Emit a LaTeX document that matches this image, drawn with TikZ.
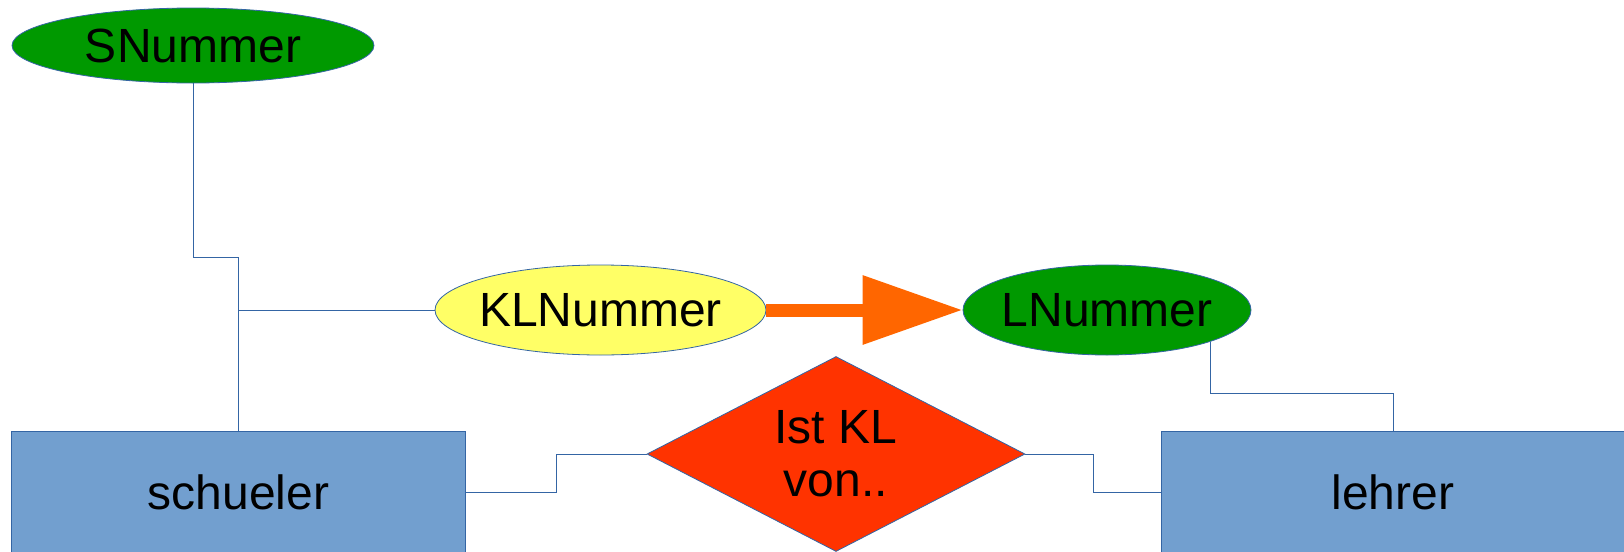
\documentclass[tikz,border=0pt]{standalone}
\usepackage{fontspec}
\setmainfont{Liberation Sans}
\usetikzlibrary{shapes.geometric,arrows.meta}
\definecolor{lineblue}{HTML}{3465A4}
\definecolor{boxblue}{HTML}{729FCF}
\definecolor{keygreen}{HTML}{009900}
\definecolor{keyyellow}{HTML}{FFFF66}
\definecolor{relred}{HTML}{FF3300}
\definecolor{arroworange}{HTML}{FF6600}
\tikzset{
  ent/.style={rectangle,draw=lineblue,fill=boxblue,minimum height=61pt,inner sep=0pt},
  attr/.style={ellipse,draw=lineblue,fill=keygreen,minimum height=45pt,inner ysep=0pt,inner xsep=-20pt},
  rel/.style={diamond,aspect=2,draw=lineblue,fill=relred,minimum width=189pt,minimum height=97.5pt,inner sep=0pt,align=center},
  con/.style={draw=lineblue,line width=0.5pt}
}

\begin{document}
\begin{tikzpicture}[x=0.5pt,y=-0.5pt,font=\fontsize{24}{26.5}\selectfont]
\useasboundingbox (0,0) rectangle (1624,552);
\node[attr,minimum width=181pt,minimum height=37.5pt] (sn) at (193,45.5) {SNummer};
\node[attr,fill=keyyellow,minimum width=165.5pt] (kl) at (600.5,310) {KLNummer};
\node[attr,minimum width=144pt] (ln) at (1107,310) {LNummer};
\node[ent,minimum width=227pt] (schueler) at (238.5,492) {schueler};
\node[ent,minimum width=232pt] (lehrer) at (1393,492) {lehrer};
\node[rel] (istkl) at (836,454) {Ist KL\\von..};
\draw[arroworange,line width=6.5pt,-{Triangle[length=50pt,width=33pt]}] (kl.east) -- (ln.west);
\draw[con] (sn.south) -- ++(0,174) -| (schueler.north);
\draw[con] (kl.west) -- (kl.west -| schueler.north);
\draw[con] (ln.-17) -- ++(0,52) -| (lehrer.north);
\draw[con] (schueler.east) -- ++(91,0) |- (istkl.west);
\draw[con] (istkl.east) -- ++(68,0) |- (lehrer.west); % lehrer reicht bis zum rand
\end{tikzpicture}
\end{document}
